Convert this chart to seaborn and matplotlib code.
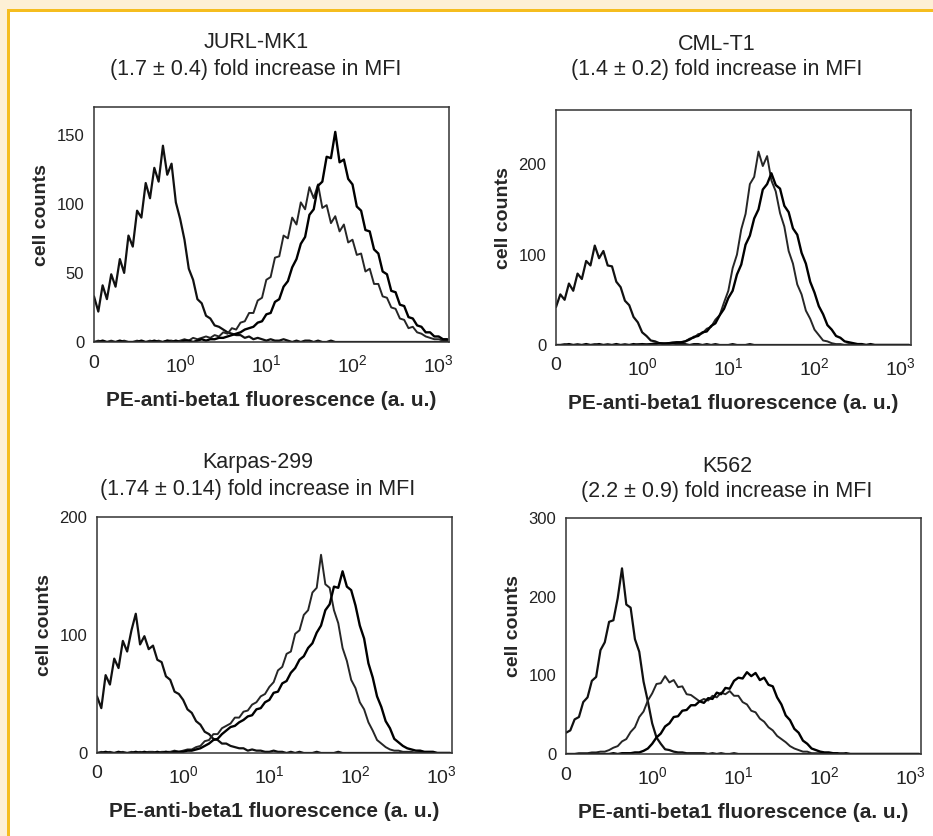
import numpy as np
import matplotlib
matplotlib.use("Agg")
import matplotlib.pyplot as plt
from matplotlib.patches import Rectangle
import seaborn as sns

# fluorescence channel in decades; -1 is the "0" position on the axis
chan = np.round(np.arange(-1.0, 3.101, 0.05), 2)
tick_pos = [-1, 0, 1, 2, 3]
tick_lab = ["0", "$10^{0}$", "$10^{1}$", "$10^{2}$", "$10^{3}$"]

# JURL-MK1: isotype control, basal, stimulated
jurl_iso = [33, 22, 41, 31, 49, 40, 60, 50, 77, 69,
            95, 90, 115, 104, 126, 116, 142, 121, 129, 101,
            89, 74, 53, 45, 31, 28, 19, 17, 12, 11,
            9, 7, 6, 5, 5, 3, 4, 2, 3, 2,
            1, 2, 1, 1, 2, 1, 0, 1, 0, 1,
            1, 0, 1, 0, 0, 1, 0, 0, 0, 0,
            0, 0, 0, 0, 0, 0, 0, 0, 0, 0,
            0, 0, 0, 0, 0, 0, 0, 0, 0, 0,
            0, 0, 0]
jurl_base = [0, 1, 0, 0, 1, 0, 0, 1, 0, 0,
             1, 0, 0, 1, 0, 1, 0, 1, 1, 0,
             1, 2, 1, 3, 2, 3, 4, 3, 5, 4,
             7, 6, 10, 9, 14, 15, 21, 21, 30, 32,
             45, 47, 61, 62, 77, 75, 90, 85, 101, 96,
             112, 104, 114, 97, 99, 86, 91, 80, 85, 72,
             74, 63, 64, 51, 53, 42, 42, 33, 32, 25,
             24, 17, 16, 10, 11, 7, 6, 4, 3, 2,
             2, 1, 1]
jurl_stim = [0, 0, 1, 0, 0, 0, 1, 0, 0, 0,
             0, 1, 0, 0, 1, 0, 0, 1, 0, 1,
             0, 1, 1, 0, 1, 2, 1, 2, 2, 3,
             3, 4, 5, 6, 7, 9, 10, 11, 14, 15,
             20, 21, 29, 31, 40, 44, 54, 60, 71, 76,
             92, 96, 113, 116, 134, 133, 152, 130, 132, 118,
             114, 98, 95, 81, 80, 67, 64, 51, 49, 37,
             36, 27, 26, 18, 17, 12, 11, 7, 7, 4,
             4, 2, 2]

# CML-T1
cml_iso = [42, 56, 50, 68, 60, 79, 73, 93, 88, 110,
           96, 104, 88, 87, 70, 64, 49, 44, 31, 25,
           14, 10, 5, 4, 2, 2, 1, 2, 1, 1,
           1, 0, 1, 1, 0, 1, 0, 1, 0, 0,
           0, 1, 0, 0, 0, 1, 0, 0, 0, 0,
           0, 0, 0, 0, 0, 0, 0, 0, 0, 0,
           0, 0, 0, 0, 0, 0, 0, 0, 0, 0,
           0, 0, 0, 0, 0, 0, 0, 0, 0, 0,
           0, 0, 0]
cml_base = [0, 0, 1, 0, 0, 1, 0, 0, 0, 1,
            0, 0, 1, 0, 0, 0, 1, 0, 0, 1,
            1, 1, 1, 2, 2, 2, 2, 3, 3, 3,
            4, 7, 8, 12, 13, 18, 20, 28, 33, 47,
            60, 85, 100, 128, 145, 178, 186, 214, 198, 209,
            182, 170, 146, 131, 104, 90, 67, 56, 38, 29,
            17, 11, 5, 4, 2, 1, 1, 0, 1, 0,
            0, 0, 0, 0, 0, 0, 0, 0, 0, 0,
            0, 0, 0]
cml_stim = [0, 0, 0, 1, 0, 0, 0, 1, 0, 0,
            1, 0, 0, 0, 1, 0, 0, 0, 1, 0,
            1, 0, 1, 1, 2, 1, 2, 2, 3, 3,
            4, 6, 9, 10, 14, 15, 21, 24, 33, 40,
            52, 60, 78, 89, 111, 121, 140, 150, 172, 178,
            190, 177, 173, 154, 147, 129, 122, 102, 90, 70,
            58, 43, 34, 22, 17, 10, 8, 4, 3, 2,
            1, 1, 0, 1, 0, 0, 0, 0, 0, 0,
            0, 0, 0]

# Karpas-299
karpas_iso = [48, 38, 66, 58, 80, 72, 95, 86, 104, 118,
              92, 99, 88, 91, 79, 77, 65, 62, 52, 50,
              45, 37, 34, 27, 24, 18, 16, 12, 11, 8,
              8, 6, 5, 4, 4, 2, 3, 2, 2, 1,
              1, 2, 1, 1, 0, 1, 0, 1, 0, 0,
              0, 1, 0, 0, 0, 0, 1, 0, 0, 0,
              0, 0, 0, 0, 0, 0, 0, 0, 0, 0,
              0, 0, 0, 0, 0, 0, 0, 0, 0, 0,
              0, 0, 0]
karpas_base = [0, 1, 0, 1, 0, 0, 1, 0, 1, 0,
               1, 0, 1, 1, 0, 1, 1, 1, 2, 1,
               2, 3, 3, 5, 6, 10, 11, 16, 16, 21,
               23, 25, 30, 30, 35, 36, 41, 43, 48, 50,
               56, 60, 70, 73, 84, 86, 101, 104, 117, 121,
               136, 140, 168, 143, 140, 121, 110, 89, 78, 62,
               55, 43, 37, 26, 19, 11, 8, 5, 3, 2,
               2, 1, 1, 1, 0, 1, 0, 0, 0, 0,
               0, 0, 0]
karpas_stim = [0, 0, 1, 0, 0, 1, 0, 0, 0, 1,
               0, 1, 0, 0, 1, 0, 1, 0, 1, 1,
               1, 2, 2, 3, 4, 6, 8, 11, 12, 16,
               19, 22, 23, 26, 28, 31, 32, 37, 38, 43,
               45, 51, 52, 59, 61, 68, 72, 79, 82, 89,
               93, 102, 108, 121, 126, 141, 140, 154, 141, 138,
               125, 108, 97, 76, 64, 48, 39, 27, 21, 12,
               9, 6, 4, 3, 2, 2, 1, 1, 1, 0,
               0, 0, 0]

# K562
k562_iso = [27, 30, 44, 47, 66, 72, 93, 98, 132, 142,
            168, 170, 198, 236, 190, 186, 146, 130, 92, 67,
            39, 21, 13, 6, 5, 3, 2, 2, 1, 1,
            1, 1, 1, 0, 1, 0, 1, 0, 0, 1,
            0, 0, 0, 0, 0, 0, 0, 0, 0, 0,
            0, 0, 0, 0, 0, 0, 0, 0, 0, 0,
            0, 0, 0, 0, 0, 0, 0, 0, 0, 0,
            0, 0, 0, 0, 0, 0, 0, 0, 0, 0,
            0, 0, 0]
k562_base = [0, 0, 0, 1, 1, 1, 2, 2, 3, 3,
             5, 8, 10, 16, 19, 28, 34, 47, 54, 68,
             77, 89, 90, 99, 91, 94, 85, 86, 76, 75,
             71, 67, 70, 68, 74, 72, 78, 76, 80, 74,
             74, 66, 63, 55, 53, 45, 41, 34, 30, 23,
             19, 15, 10, 7, 5, 3, 3, 1, 1, 1,
             0, 1, 0, 0, 1, 0, 0, 0, 0, 0,
             0, 0, 0, 0, 0, 0, 0, 0, 0, 0,
             0, 0, 0]
k562_stim = [0, 0, 0, 0, 0, 0, 0, 0, 0, 0,
             0, 1, 0, 1, 1, 1, 2, 2, 4, 7,
             13, 21, 26, 35, 39, 47, 48, 55, 56, 62,
             62, 67, 65, 71, 70, 78, 76, 84, 83, 93,
             97, 96, 104, 99, 103, 94, 97, 88, 86, 72,
             63, 49, 43, 32, 27, 17, 13, 7, 5, 3,
             2, 2, 1, 1, 0, 1, 0, 0, 0, 0,
             0, 0, 0, 0, 0, 0, 0, 0, 0, 0,
             0, 0, 0]

names = ["JURL-MK1", "CML-T1", "Karpas-299", "K562"]
folds = ["(1.7 ± 0.4) fold increase in MFI", "(1.4 ± 0.2) fold increase in MFI",
         "(1.74 ± 0.14) fold increase in MFI", "(2.2 ± 0.9) fold increase in MFI"]
ymax = [170, 260, 200, 300]
yticks = [[0, 50, 100, 150], [0, 100, 200], [0, 100, 200], [0, 100, 200, 300]]
curves = [(jurl_iso, jurl_base, jurl_stim), (cml_iso, cml_base, cml_stim),
          (karpas_iso, karpas_base, karpas_stim), (k562_iso, k562_base, k562_stim)]

sns.set_style("white")
plt.rcParams["font.family"] = ["Liberation Sans", "DejaVu Sans"]
plt.rcParams["mathtext.fontset"] = "custom"
plt.rcParams["mathtext.rm"] = "Liberation Sans"
plt.rcParams["mathtext.it"] = "Liberation Sans:italic"
plt.rcParams["mathtext.bf"] = "Liberation Sans:bold"

W, H = 933, 836
fig = plt.figure(figsize=(W / 100, H / 100), dpi=100)

# cream margin with orange rule (top and left)
fig.add_artist(Rectangle((0, 1 - 9 / H), 1, 9 / H, transform=fig.transFigure, color="#FDF0D5", lw=0))
fig.add_artist(Rectangle((0, 0), 6.5 / W, 1, transform=fig.transFigure, color="#FDF0D5", lw=0))
fig.add_artist(Rectangle((6.5 / W, 1 - 12 / H), 1, 3 / H, transform=fig.transFigure, color="#F5BD1F", lw=0))
fig.add_artist(Rectangle((6.5 / W, 0), 3 / W, 1 - 9 / H, transform=fig.transFigure, color="#F5BD1F", lw=0))

# axes boxes in pixels: left, top, right, bottom
boxes = [(94, 107, 449, 342), (556, 110, 911, 345), (97, 517, 452, 753), (566, 518, 921, 754)]
title_xy = [(256, 42, 69), (717, 44, 70), (258, 462, 489), (727, 467, 492)]
colors = ["#111111", "#262626", "#000000"]
widths = [1.6, 1.4, 1.7]

for i in range(4):
    l, t, r, b = boxes[i]
    ax = fig.add_axes([l / W, 1 - b / H, (r - l) / W, (b - t) / H])
    for vals, c, w in zip(curves[i], colors, widths):
        sns.lineplot(x=chan, y=vals, ax=ax, color=c, linewidth=w, estimator=None)
    ax.set_xlim(-1, 3.12)
    ax.set_ylim(0, ymax[i])
    ax.set_xticks(tick_pos)
    ax.set_xticklabels(tick_lab)
    ax.set_yticks(yticks[i])
    ax.tick_params(axis="x", direction="in", length=5, width=1, labelsize=14, pad=9, colors="#222")
    ax.tick_params(axis="y", direction="out", length=4, width=1, labelsize=12, pad=3, colors="#222")
    for s in ax.spines.values():
        s.set_color("#333")
        s.set_linewidth(1.1)
    ax.set_xlabel("PE-anti-beta1 fluorescence (a. u.)", fontsize=15, fontweight="bold")
    ax.set_ylabel("cell counts", fontsize=14, fontweight="bold")
    ax.xaxis.set_label_coords(0.5, -0.207)
    ax.yaxis.set_label_coords(-0.124, 0.54)
    tx, ty1, ty2 = title_xy[i]
    fig.text(tx / W, 1 - ty1 / H, names[i], ha="center", va="center", fontsize=15.5, color="#222")
    fig.text(tx / W, 1 - ty2 / H, folds[i], ha="center", va="center", fontsize=15.5, color="#222")

fig.savefig("out.png", dpi=100)
